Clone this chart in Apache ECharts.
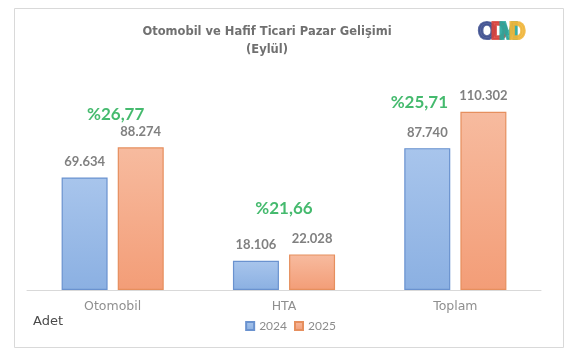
<!DOCTYPE html>
<html><head><meta charset="utf-8">
<script src="https://cdn.jsdelivr.net/npm/echarts@6/dist/echarts.min.js"></script>
<style>html,body{margin:0;padding:0;background:#fff}#c{width:581px;height:354px}</style>
</head><body><div id="c"></div>
<script>
const categories = ['Otomobil', 'HTA', 'Toplam'];
const values2024 = [69634, 18106, 87740];
const values2025 = [88274, 22028, 110302];
const growthLabels = ['%26,77', '%21,66', '%25,71'];
const seriesNames = ['2024', '2025'];
const unitLabel = 'Adet';
const titleText = 'Otomobil ve Hafif Ticari Pazar Gelişimi\n(Eylül)';

const fmt = v => v.toLocaleString('de-DE');
const font = 'Lato, "Open Sans", sans-serif';
const wide = '"DejaVu Sans", sans-serif';
const pctOffsets = [[3, -33], [0, -46], [-36, -9]];
const logoFont = 'bold 23px "Liberation Sans", Arial, sans-serif';

function logoLetter(ch, x, color) {
  return {type: 'text', x: x, y: 21, style: {text: ch, font: logoFont, fill: color, stroke: color, lineWidth: 2.2, opacity: 0.85}};
}

const chart = echarts.init(document.getElementById('c'), null, {renderer: 'canvas'});
chart.setOption({
  animation: false,
  title: {
    text: titleText, left: 262, top: 18, textAlign: 'center',
    textStyle: {fontFamily: wide, fontSize: 11.5, fontWeight: 'bold', color: '#707070', lineHeight: 18}
  },
  graphic: [
    {type: 'rect', shape: {x: 14.5, y: 8.5, width: 549, height: 339}, style: {fill: 'none', stroke: '#d9d9d9', lineWidth: 1}, z: -1},
    {type: 'text', left: 33, top: 315, style: {text: unitLabel, font: '13px ' + wide, fill: '#4a4a4a'}},
    logoLetter('O', 478, '#3d4f8f'),
    logoLetter('D', 491, '#d8433d'),
    logoLetter('M', 499, '#2aa79c'),
    logoLetter('D', 509, '#f0b53a')
  ],
  legend: {
    data: seriesNames, left: 'center', top: 315, itemWidth: 8, itemHeight: 8, itemGap: 7,
    icon: 'rect',
    textStyle: {fontFamily: font, fontSize: 12, color: '#8c8c8c'}
  },
  grid: {left: 27, width: 514, top: 96, height: 194, containLabel: false},
  xAxis: {
    type: 'category', data: categories,
    axisLine: {lineStyle: {color: '#d9d9d9', width: 1}},
    axisTick: {show: false},
    axisLabel: {fontFamily: wide, fontSize: 12.5, color: '#8f8f8f', margin: 10}
  },
  yAxis: {type: 'value', min: 0, max: 120000, show: false, splitLine: {show: false}},
  series: [
    {
      name: seriesNames[0], type: 'bar', data: values2024, barWidth: 46, barGap: '22%',
      itemStyle: {
        color: new echarts.graphic.LinearGradient(0, 0, 0, 1, [{offset: 0, color: '#a8c5ec'}, {offset: 1, color: '#8bb0e2'}]),
        borderColor: '#6a92cf', borderWidth: 1.2
      },
      label: {show: true, position: 'top', distance: 9, formatter: p => fmt(p.value),
        fontFamily: font, fontSize: 13, fontWeight: 'bold', color: '#808080'}
    },
    {
      name: seriesNames[1], type: 'bar', data: values2025, barWidth: 46,
      itemStyle: {
        color: new echarts.graphic.LinearGradient(0, 0, 0, 1, [{offset: 0, color: '#f7bb9f'}, {offset: 1, color: '#f39d77'}]),
        borderColor: '#e68f5e', borderWidth: 1.2
      },
      label: {show: true, position: 'top', distance: 9, formatter: p => fmt(p.value),
        fontFamily: font, fontSize: 13, fontWeight: 'bold', color: '#808080'}
    },
    {
      type: 'scatter', symbolSize: 0, silent: true, legendHoverLink: false,
      data: categories.map((c, i) => ({
        value: [c, Math.max(values2024[i], values2025[i])],
        label: {show: true, formatter: growthLabels[i], offset: pctOffsets[i], position: 'inside',
          fontFamily: font, fontSize: 17, fontWeight: 'bold', color: '#17a94a'}
      }))
    }
  ]
});
</script></body></html>
